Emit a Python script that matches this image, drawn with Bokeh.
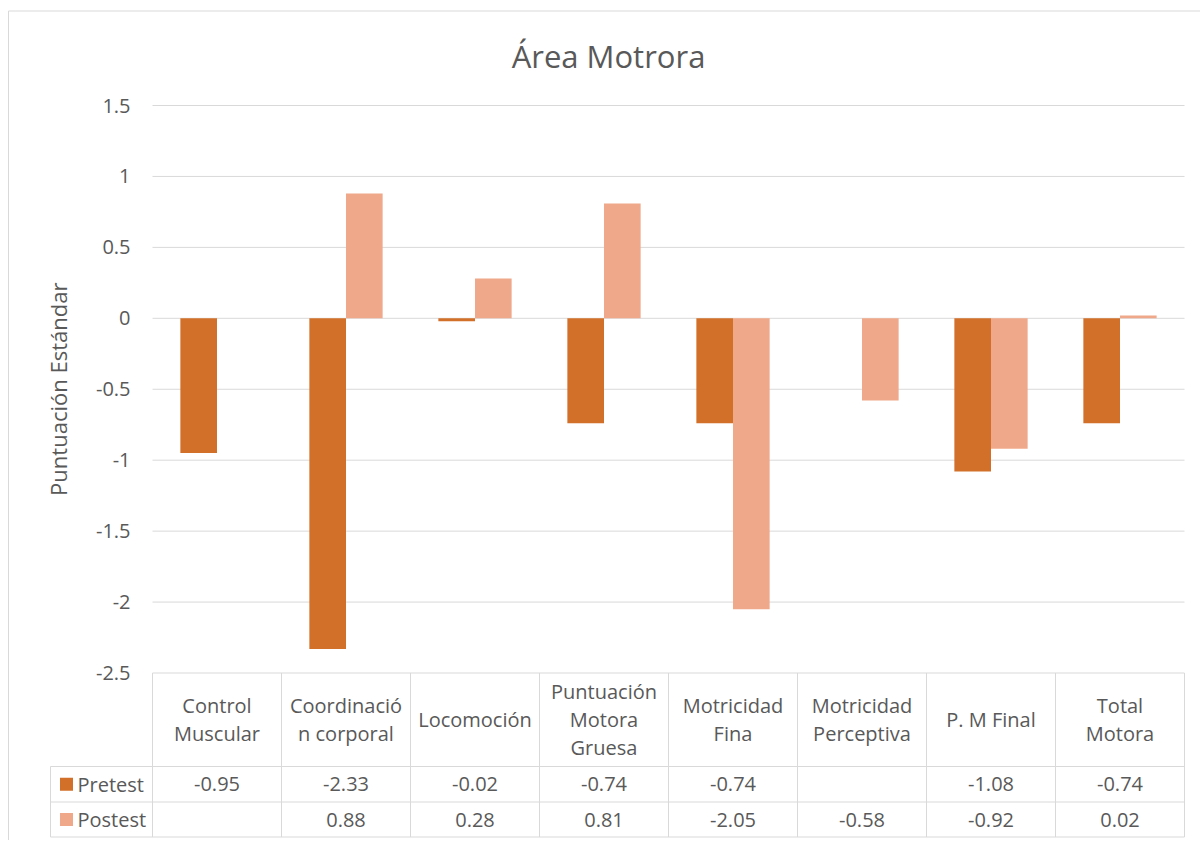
import math
from bokeh.plotting import figure
from bokeh.models import Range1d, ColumnDataSource
from bokeh.transform import dodge
from bokeh.embed import file_html
from bokeh.resources import INLINE
from bokeh.core.properties import value

# ---------------- data ----------------
categories = ["Control\nMuscular", "Coordinació\nn corporal", "Locomoción",
              "Puntuación\nMotora\nGruesa", "Motricidad\nFina",
              "Motricidad\nPerceptiva", "P. M Final", "Total\nMotora"]
series_names = ["Pretest", "Postest"]
pretest = [-0.95, -2.33, -0.02, -0.74, -0.74, None, -1.08, -0.74]
postest = [None, 0.88, 0.28, 0.81, -2.05, -0.58, -0.92, 0.02]
y_ticks = [-2.5, -2, -1.5, -1, -0.5, 0, 0.5, 1, 1.5]
y_tick_labels = ["-2.5", "-2", "-1.5", "-1", "-0.5", "0", "0.5", "1", "1.5"]
title_text = "Área Motrora"
y_label = "Puntuación Estándar"

# ---------------- style / layout ----------------
FONT = value("Open Sans")
TXT = "#595959"
GRID = "#d9d9d9"
COLORS = ["#d2702a", "#f0a88a"]
W, H = 1200, 840          # canvas size
PAGE0 = 0                 # page offset of canvas (template has no body margin)
PLOT_L = 152              # page x of plot-area left edge
CW = 129                  # px per category
PLOT_T = 105              # page y of top tick
PLOT_B = 672.5            # page y of bottom tick
BAR_W = 0.284

n = len(categories)
ymax, ymin = max(y_ticks), min(y_ticks)
PPU = (PLOT_B - PLOT_T) / (ymax - ymin)

def px_x(page_x):
    return (page_x - PLOT_L) / CW

def px_y(page_y):
    return ymax - (page_y - PLOT_T) / PPU

x_start, x_end = px_x(PAGE0), px_x(PAGE0 + W)
y_end, y_start = px_y(PAGE0), px_y(PAGE0 + H)

p = figure(width=W, height=H, output_backend="svg", toolbar_location=None,
           x_range=Range1d(x_start, x_end), y_range=Range1d(y_start, y_end),
           x_axis_type=None, y_axis_type=None,
           min_border=0, outline_line_color=None)
p.grid.visible = False

seg = dict(x0=[], y0=[], x1=[], y1=[])
def add(a, b, c, d):
    seg["x0"].append(a); seg["y0"].append(b); seg["x1"].append(c); seg["y1"].append(d)

# outer chart border (left + top)
add(px_x(8), px_y(10.5), px_x(8), y_start)
add(px_x(8), px_y(10.5), x_end, px_y(10.5))

# horizontal gridlines at the ticks
for tv in y_ticks:
    add(0, tv, n, tv)

# data table grid
hdr_y = px_y(766)
r1_y = px_y(801.5)
bot_y = px_y(836.5)
leg_left = px_x(50)
for yy in (hdr_y, r1_y, bot_y):
    add(leg_left, yy, n, yy)
for i in range(n + 1):
    add(i, ymin, i, bot_y)
add(leg_left, hdr_y, leg_left, bot_y)
p.segment(x0="x0", y0="y0", x1="x1", y1="y1", source=ColumnDataSource(seg),
          line_color=GRID, line_width=1)

# bars
nan = float("nan")
xs = [i + 0.5 for i in range(n)]
src = ColumnDataSource(dict(
    x=xs,
    pre=[nan if v is None else v for v in pretest],
    post=[nan if v is None else v for v in postest],
))
p.vbar(x=dodge("x", -BAR_W / 2, range=p.x_range), top="pre", bottom=0,
       width=BAR_W, source=src, fill_color=COLORS[0], line_color=None)
p.vbar(x=dodge("x", BAR_W / 2, range=p.x_range), top="post", bottom=0,
       width=BAR_W, source=src, fill_color=COLORS[1], line_color=None)

# title
p.text(x=[px_x(608)], y=[px_y(55)], text=[title_text], text_align="center",
       text_baseline="middle", text_font=FONT, text_font_size="31px",
       text_color=TXT)

# y tick labels and axis title
p.text(x=[px_x(130)] * len(y_ticks), y=y_ticks, text=y_tick_labels,
       text_align="right", text_baseline="middle", text_font=FONT,
       text_font_size="20px", text_color=TXT)
p.text(x=[px_x(57.5)], y=[(ymax + ymin) / 2], text=[y_label], angle=math.pi / 2,
       text_align="center", text_baseline="middle", text_font=FONT,
       text_font_size="22px", text_color=TXT)

# table header
p.text(x=xs, y=[(ymin + hdr_y) / 2] * n, text=categories, text_align="center",
       text_baseline="middle", text_font=FONT, text_font_size="20px",
       text_color=TXT, text_line_height=1.03)

# table values
row_ys = [(hdr_y + r1_y) / 2, (r1_y + bot_y) / 2]
for k, vals in enumerate([pretest, postest]):
    vx = [xs[i] for i, v in enumerate(vals) if v is not None]
    vt = ["%.2f" % v for v in vals if v is not None]
    p.text(x=vx, y=[row_ys[k]] * len(vx), text=vt, text_align="center",
           text_baseline="middle", text_font=FONT, text_font_size="20px",
           text_color=TXT)

# legend keys inside the table
p.scatter(x=[px_x(66)] * 2, y=row_ys, marker="square", size=13,
          fill_color=COLORS, line_color=None)
p.text(x=[px_x(77)] * 2, y=row_ys, text=series_names, text_align="left",
       text_baseline="middle", text_font=FONT, text_font_size="20px",
       text_color=TXT)

open("out.html", "w").write(file_html(p, INLINE))
